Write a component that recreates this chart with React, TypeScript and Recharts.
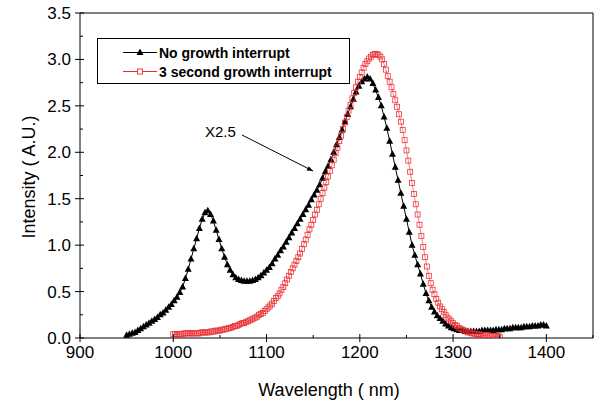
import React from 'react';
import { LineChart, Line, XAxis, YAxis, ReferenceLine } from 'recharts';

// Black series: "No growth interrupt" (x2.5), wavelengths 950..1400 nm every 3 nm
const noInterruptStart = 950;
const noInterruptStep = 3;
const noInterrupt = [
  0.03, 0.04, 0.05, 0.06, 0.08, 0.10, 0.12, 0.14, 0.16, 0.18,
  0.20, 0.22, 0.25, 0.27, 0.30, 0.33, 0.36, 0.40, 0.44, 0.49,
  0.55, 0.64, 0.74, 0.85, 0.96, 1.07, 1.18, 1.28, 1.35, 1.37,
  1.33, 1.26, 1.16, 1.06, 0.96, 0.87, 0.79, 0.73, 0.68, 0.65,
  0.63, 0.62, 0.61, 0.61, 0.61, 0.62, 0.63, 0.65, 0.67, 0.70,
  0.73, 0.76, 0.80, 0.85, 0.89, 0.94, 0.98, 1.03, 1.08, 1.13,
  1.18, 1.23, 1.28, 1.33, 1.38, 1.43, 1.49, 1.54, 1.59, 1.65,
  1.72, 1.79, 1.85, 1.92, 2.00, 2.08, 2.16, 2.24, 2.33, 2.41,
  2.49, 2.57, 2.65, 2.71, 2.76, 2.79, 2.81, 2.79, 2.74, 2.67,
  2.59, 2.50, 2.38, 2.26, 2.12, 1.98, 1.84, 1.70, 1.56, 1.42,
  1.28, 1.14, 1.00, 0.89, 0.79, 0.69, 0.58, 0.48, 0.40, 0.33,
  0.28, 0.24, 0.21, 0.18, 0.15, 0.13, 0.11, 0.10, 0.09, 0.08,
  0.08, 0.07, 0.07, 0.07, 0.07, 0.07, 0.07, 0.08, 0.08, 0.08,
  0.08, 0.08, 0.09, 0.09, 0.09, 0.10, 0.10, 0.10, 0.11, 0.11,
  0.11, 0.11, 0.12, 0.12, 0.12, 0.13, 0.13, 0.13, 0.14, 0.14,
  0.13,
];

// Red series: "3 second growth interrupt", wavelengths 1000..1350 nm every 2 nm
const interruptStart = 1000;
const interruptStep = 2;
const interrupt3s = [
  0.04, 0.04, 0.04, 0.04, 0.04, 0.04, 0.05, 0.05, 0.05, 0.05,
  0.05, 0.05, 0.05, 0.05, 0.05, 0.06, 0.06, 0.06, 0.06, 0.06,
  0.07, 0.07, 0.07, 0.08, 0.08, 0.08, 0.09, 0.09, 0.10, 0.10,
  0.11, 0.11, 0.12, 0.13, 0.13, 0.14, 0.15, 0.16, 0.16, 0.17,
  0.18, 0.19, 0.20, 0.21, 0.22, 0.23, 0.25, 0.26, 0.27, 0.29,
  0.31, 0.33, 0.35, 0.37, 0.40, 0.43, 0.45, 0.48, 0.52, 0.55,
  0.59, 0.63, 0.67, 0.71, 0.75, 0.79, 0.83, 0.87, 0.91, 0.96,
  1.01, 1.06, 1.11, 1.17, 1.22, 1.27, 1.33, 1.38, 1.44, 1.50,
  1.56, 1.62, 1.68, 1.74, 1.80, 1.86, 1.92, 1.99, 2.05, 2.12,
  2.18, 2.25, 2.32, 2.38, 2.45, 2.51, 2.58, 2.64, 2.70, 2.76,
  2.81, 2.86, 2.91, 2.95, 2.98, 3.01, 3.03, 3.05, 3.06, 3.06,
  3.05, 3.03, 3.00, 2.95, 2.89, 2.82, 2.76, 2.70, 2.63, 2.56,
  2.49, 2.41, 2.33, 2.24, 2.13, 2.02, 1.91, 1.79, 1.67, 1.55,
  1.44, 1.33, 1.22, 1.10, 0.98, 0.87, 0.77, 0.67, 0.59, 0.52,
  0.47, 0.42, 0.38, 0.34, 0.31, 0.28, 0.25, 0.22, 0.20, 0.18,
  0.16, 0.14, 0.13, 0.11, 0.10, 0.09, 0.08, 0.07, 0.06, 0.06,
  0.05, 0.05, 0.04, 0.04, 0.04, 0.03, 0.03, 0.03, 0.03, 0.03,
  0.02, 0.02, 0.02, 0.02, 0.02, 0.01,
];

const xTicks = [900, 950, 1000, 1050, 1100, 1150, 1200, 1250, 1300, 1350, 1400, 1450];
const xLabelTicks = [900, 1000, 1100, 1200, 1300, 1400];
const yTicks = [0, 0.25, 0.5, 0.75, 1, 1.25, 1.5, 1.75, 2, 2.25, 2.5, 2.75, 3, 3.25, 3.5];
const yLabelTicks = [0, 0.5, 1, 1.5, 2, 2.5, 3, 3.5];

const seriesNames = ['No growth interrupt', '3 second growth interrupt'];
const xTitle = 'Wavelength ( nm)';
const yTitle = 'Intensity ( A.U.)';
const annotation = 'X2.5';

const blackData = noInterrupt.map((v, i) => ({ wl: noInterruptStart + i * noInterruptStep, v }));
const redData = interrupt3s.map((v, i) => ({ wl: interruptStart + i * interruptStep, v }));

const FONT = '"Liberation Sans", Arial, sans-serif';
const RED = '#ea2a2e';

const Tri = (p: any) => {
  const { cx, cy, index } = p;
  if (cx == null || cy == null) return <g key={`t${index}`} />;
  return (
    <polygon
      key={`t${index}`}
      points={`${cx},${cy - 4} ${cx - 3.5},${cy + 2.5} ${cx + 3.5},${cy + 2.5}`}
      fill="#000"
    />
  );
};

const Sq = (p: any) => {
  const { cx, cy, index } = p;
  if (cx == null || cy == null) return <g key={`s${index}`} />;
  return (
    <rect key={`s${index}`} x={cx - 2.5} y={cy - 2.5} width={5} height={5} fill="none" stroke={RED} strokeWidth={0.75} />
  );
};

const XTick = (p: any) => {
  const { x, y, payload } = p;
  const v = payload.value;
  const labeled = xLabelTicks.includes(v);
  const major = v % 100 === 0;
  return (
    <g>
      <line x1={x} x2={x} y1={major ? y - 4 : y - 3} y2={major ? y + 4 : y} stroke="#000" strokeWidth={1} />
      {labeled && (
        <text x={x} y={y + 20} textAnchor="middle" fontSize={17} fontFamily={FONT} fill="#000">
          {v}
        </text>
      )}
    </g>
  );
};

const YTick = (p: any) => {
  const { x, y, payload } = p;
  const v = payload.value;
  const labeled = yLabelTicks.some((t) => Math.abs(t - v) < 1e-9);
  return (
    <g>
      <line x1={labeled ? x - 5 : x} x2={labeled ? x + 4 : x + 3} y1={y} y2={y} stroke="#000" strokeWidth={1} />
      {labeled && (
        <text x={x - 9} y={y + 6} textAnchor="end" fontSize={17} fontFamily={FONT} fill="#000">
          {v.toFixed(1)}
        </text>
      )}
    </g>
  );
};

export default function App() {
  return (
    <div style={{ position: 'absolute', left: 0, top: 0, width: 600, height: 406, background: '#fff' }}>
      <LineChart
        width={600}
        height={406}
        margin={{ top: 13, right: 7, bottom: 0, left: 0 }}
      >
        <XAxis
          dataKey="wl"
          type="number"
          domain={[900, 1450]}
          ticks={xTicks}
          interval={0}
          allowDataOverflow
          height={68}
          tickSize={0}
          tickMargin={0}
          tickLine={false}
          axisLine={{ stroke: '#000', strokeWidth: 1 }}
          tick={<XTick />}
        />
        <YAxis
          type="number"
          domain={[0, 3.5]}
          ticks={yTicks}
          interval={0}
          allowDataOverflow
          width={80}
          tickSize={0}
          tickMargin={0}
          tickLine={false}
          axisLine={{ stroke: '#000', strokeWidth: 1 }}
          tick={<YTick />}
        />
        <ReferenceLine y={3.5} stroke="#000" strokeWidth={1} ifOverflow="extendDomain" />
        <ReferenceLine x={1450} stroke="#000" strokeWidth={1} ifOverflow="extendDomain" />
        <Line
          data={blackData}
          dataKey="v"
          name={seriesNames[0]}
          stroke="#000"
          strokeWidth={1}
          dot={Tri}
          activeDot={false}
          isAnimationActive={false}
          type="linear"
        />
        <Line
          data={redData}
          dataKey="v"
          name={seriesNames[1]}
          stroke={RED}
          strokeWidth={0.6}
          dot={Sq}
          activeDot={false}
          isAnimationActive={false}
          type="linear"
        />
      </LineChart>
      <svg
        width={600}
        height={406}
        style={{ position: 'absolute', left: 0, top: 0, pointerEvents: 'none' }}
      >
        <defs>
          <marker id="arr" viewBox="0 0 10 10" refX="10" refY="5" markerWidth="9" markerHeight="6" orient="auto" markerUnits="userSpaceOnUse">
            <path d="M0,1 L10,5 L0,9 Z" fill="#000" />
          </marker>
        </defs>
        {/* legend */}
        <rect x={97.5} y={38.5} width={252} height={45} fill="#fff" stroke="#000" strokeWidth={1} />
        <line x1={123} x2={157} y1={52.5} y2={52.5} stroke="#000" strokeWidth={1} />
        <polygon points="140,48.5 136.5,55 143.5,55" fill="#000" />
        <text x={159} y={57.5} fontSize={14} fontWeight="bold" fontFamily={FONT} fill="#000">{seriesNames[0]}</text>
        <line x1={123} x2={157} y1={71.5} y2={71.5} stroke={RED} strokeWidth={1} />
        <rect x={137.5} y={69} width={5} height={5} fill="#fff" stroke={RED} strokeWidth={0.9} />
        <text x={159} y={76.5} fontSize={14} fontWeight="bold" fontFamily={FONT} fill="#000">{seriesNames[1]}</text>
        {/* annotation */}
        <text x={205} y={137} fontSize={15} fontFamily={FONT} fill="#000">{annotation}</text>
        <line x1={242} y1={135} x2={313} y2={171} stroke="#000" strokeWidth={1} markerEnd="url(#arr)" />
        {/* axis titles */}
        <text x={329} y={396} textAnchor="middle" fontSize={18} fontFamily={FONT} fill="#000">{xTitle}</text>
        <text x={35} y={177} textAnchor="middle" fontSize={18} fontFamily={FONT} fill="#000" transform="rotate(-90 35 177)">{yTitle}</text>
      </svg>
    </div>
  );
}
